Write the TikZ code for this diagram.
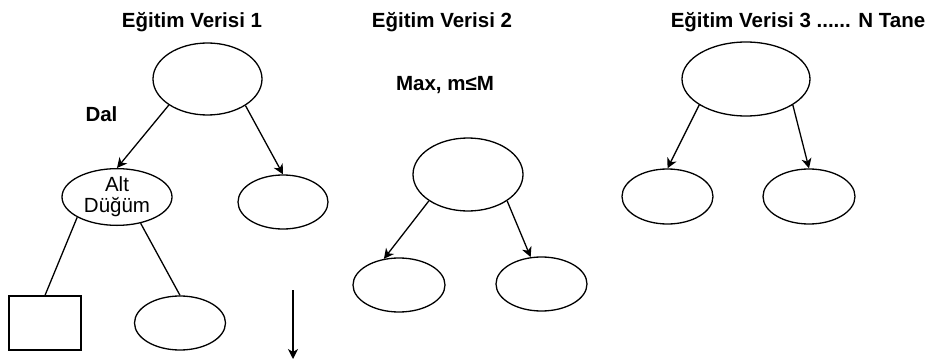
\documentclass[tikz,border=0pt]{standalone}
\usepackage{fontspec}
\setmainfont{Liberation Sans}
\usepackage{tikz}
\usetikzlibrary{arrows.meta,shapes.geometric}

\begin{document}
\begin{tikzpicture}[x=1pt,y=-1pt,->,>={Stealth[length=10pt,width=10pt,inset=3pt]},
      line width=1.3pt,font=\fontsize{20.5}{23}\selectfont,
      kok node/.style={ellipse,draw,inner sep=0pt,minimum width=110pt,minimum height=73pt},
      alt node/.style={ellipse,draw,inner sep=0pt,minimum width=91pt,minimum height=54pt},
      baslik/.style={font=\fontsize{20.5}{23}\selectfont\bfseries}]
    \useasboundingbox (0,0) rectangle (932,361);

      % ilk agac
      \node[baslik] (baslik1) at (192,22) 	{Eğitim Verisi 1};
      \node[kok node,minimum width=109pt,minimum height=72pt] (kok1) at (207.5,79) {};
      \node[baslik] (dal) at (101.5,114) 	{Dal};
      \node[alt node,minimum width=110pt,align=center] (alt1) at (117,197) {Alt\\[-2pt]Düğüm};
      \node[alt node,minimum width=90pt] (sag1) at (283,202) 	{};
      \node[rectangle,draw,inner sep=0pt,minimum width=72pt,minimum height=54pt] (kare1) at (45,323) {};
      \node[alt node] (yaprak1) at (180,323) 	{};
      \coordinate (asagi1) at (293,290);
      \coordinate (asagi2) at (293,359);

      % ikinci agac
      \node[baslik] (baslik2) at (442,22) 	{Eğitim Verisi 2};
      \node[baslik] (max) at (445,85) 		{Max, m≤M};
      \node[kok node] (kok2) at (468,174.5) 	{};
      \node[alt node,minimum width=92pt] (sol2) at (399,285) {};
      \node[alt node] (sag2) at (541.5,284) 	{};

      % ucuncu agac
      \node[baslik] (baslik3) at (798,22) 	{Eğitim Verisi 3 ...... N Tane};
      \node[kok node,minimum width=128pt,minimum height=74pt] (kok3) at (746,79) {};
      \node[alt node,minimum height=55pt] (sol3) at (667.5,196.5) {};
      \node[alt node,minimum width=92pt,minimum height=55pt] (sag3) at (809,196.5) {};

      \foreach \from/\to in {kok1.214/alt1.north,kok1.325/sag1.north,kok2.214/sol2.120,
	  kok2.326/sag2.112,kok3.209/sol3.north,kok3.331/sag3.north,asagi1/asagi2}
	\draw (\from) -- (\to);
      \foreach \from/\to in {alt1.207/kare1.north,alt1.312/yaprak1.north}
	\draw[-] (\from) -- (\to);

    \end{tikzpicture}
\end{document}
